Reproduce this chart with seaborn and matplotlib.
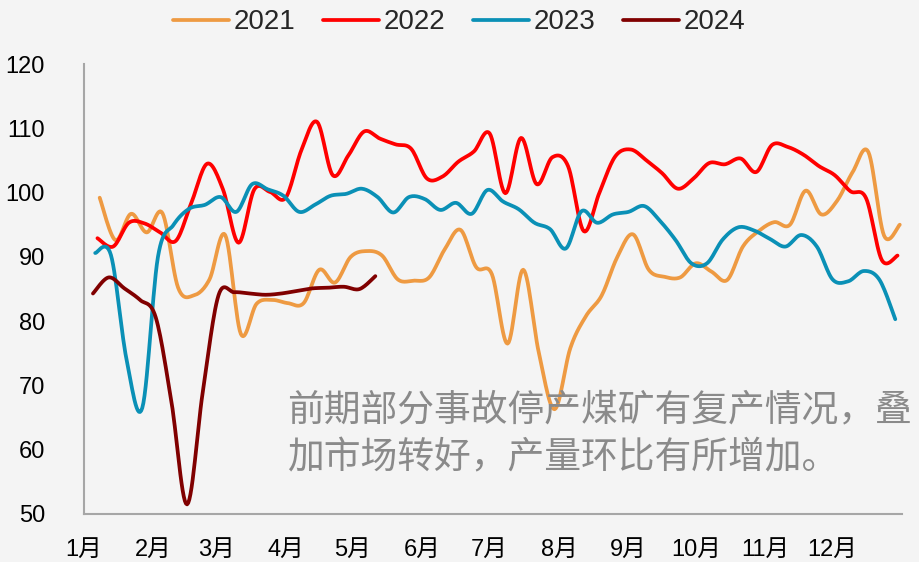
import numpy as np
import pandas as pd
import matplotlib
matplotlib.use("Agg")
import matplotlib.pyplot as plt
import seaborn as sns

# weekly values
years = ["2021", "2022", "2023", "2024"]
start_dates = ["2021-01-08", "2022-01-07", "2023-01-06", "2024-01-05"]

v2021 = [99.2, 92.6, 96.7, 93.8, 96.8, 85.2, 84.0, 86.5, 93.4, 78.0,
         82.7, 83.3, 82.8, 82.8, 88.0, 86.0, 90.0, 90.9, 90.2, 86.5,
         86.3, 86.8, 91.2, 94.2, 88.4, 87.3, 76.5, 88.0, 75.0, 66.3,
         75.8, 80.8, 84.0, 90.0, 93.5, 88.0, 86.9, 86.8, 89.0, 87.7,
         86.4, 91.6, 94.0, 95.4, 95.0, 100.3, 96.6, 98.7, 103.2, 106.3,
         93.3, 95.0]
v2022 = [92.9, 91.6, 95.3, 95.2, 93.8, 92.5, 98.5, 104.5, 100.5, 92.2,
         100.5, 100.1, 99.2, 106.6, 111.0, 102.7, 105.8, 109.5, 108.4, 107.5,
         106.8, 102.2, 102.5, 104.8, 106.4, 109.2, 99.9, 108.5, 101.3, 105.5,
         104.1, 94.0, 100.0, 105.6, 106.7, 105.0, 103.0, 100.6, 102.2, 104.6,
         104.4, 105.3, 103.2, 107.4, 107.1, 105.9, 104.1, 102.7, 100.2, 99.1,
         89.5, 90.2]
v2023 = [90.6, 90.3, 74.0, 66.5, 90.0, 95.0, 97.5, 98.1, 99.3, 97.0,
         101.3, 100.5, 99.5, 97.0, 98.1, 99.5, 99.8, 100.6, 99.3, 96.9,
         99.3, 99.0, 97.3, 98.4, 96.7, 100.4, 98.6, 97.4, 95.3, 94.3,
         91.3, 97.1, 95.3, 96.6, 97.0, 97.9, 95.6, 92.6, 89.0, 89.0,
         92.7, 94.6, 94.1, 92.8, 91.6, 93.4, 91.6, 86.5, 86.2, 87.8,
         86.4, 80.3]
v2024 = [84.3, 86.8, 85.1, 83.3, 80.6, 67.5, 51.5, 69.0, 84.0, 84.5,
         84.3, 84.1, 84.3, 84.7, 85.1, 85.2, 85.35, 85.0, 87.0]

colors = ["#EE9A42", "#FF0000", "#0A90B6", "#800000"]
month_labels = [f"{m}月" for m in range(1, 13)]
y_ticks = [50, 60, 70, 80, 90, 100, 110, 120]
note_lines = ["前期部分事故停产煤矿有复产情况，叠", "加市场转好，产量环比有所增加。"]


def catmull_rom(x, y, steps=14):
    # smoothed line through the weekly points (like Excel's smooth line)
    pts = np.column_stack([x, y]).astype(float)
    pts = np.vstack([pts[0], pts, pts[-1]])
    t = np.linspace(0, 1, steps, endpoint=False)[:, None]
    h00 = 2 * t**3 - 3 * t**2 + 1
    h10 = t**3 - 2 * t**2 + t
    h01 = -2 * t**3 + 3 * t**2
    h11 = t**3 - t**2
    out = []
    for i in range(1, len(pts) - 2):
        p0, p1, p2, p3 = pts[i - 1], pts[i], pts[i + 1], pts[i + 2]
        m1 = (p2 - p0) / 2
        m2 = (p3 - p1) / 2
        out.append(h00 * p1 + h10 * m1 + h01 * p2 + h11 * m2)
    out.append(pts[-2][None, :])
    return np.vstack(out)


frames = []
for yr, start, vals in zip(years, start_dates, [v2021, v2022, v2023, v2024]):
    dates = pd.date_range(start, periods=len(vals), freq="7D")
    day = (dates - pd.Timestamp(f"{yr}-01-01")).days
    s = catmull_rom(day, vals)
    frames.append(pd.DataFrame({"day": s[:, 0], "value": s[:, 1], "year": yr}))
df = pd.concat(frames, ignore_index=True)

month_pos = (pd.date_range("2021-01-01", periods=13, freq="MS") - pd.Timestamp("2021-01-01")).days

sns.set_style("white")
plt.rcParams["font.family"] = ["Liberation Sans Narrow", "Liberation Sans", "Noto Sans CJK SC"]
bg = "#f4f4f4"

fig = plt.figure(figsize=(9.19, 5.62), dpi=100, facecolor=bg)
ax = fig.add_axes([84 / 919, 48 / 562, 818 / 919, 450 / 562])
ax.set_facecolor(bg)

sns.lineplot(data=df, x="day", y="value", hue="year", palette=dict(zip(years, colors)),
             sort=False, estimator=None, linewidth=2.7, ax=ax)

ax.set_xlim(month_pos[0], month_pos[-1])
ax.set_ylim(y_ticks[0], y_ticks[-1])
ax.set_xticks(month_pos)
ax.set_xticklabels(month_labels + [""])
ax.set_yticks(y_ticks)
ax.set_xlabel("")
ax.set_ylabel("")

for side in ["top", "right"]:
    ax.spines[side].set_visible(False)
for side in ["left", "bottom"]:
    ax.spines[side].set_color("#a6a6a6")
    ax.spines[side].set_linewidth(1.5)
ax.tick_params(axis="x", direction="out", length=6, width=1.5, color="#a6a6a6",
               labelsize=17, pad=12, labelcolor="black")
ax.tick_params(axis="y", direction="out", length=6, width=1.5, color="#a6a6a6",
               labelsize=17, pad=22, labelcolor="black")

handles, labels = ax.get_legend_handles_labels()
ax.legend(handles, labels, loc="center", bbox_to_anchor=(0.5, 0.96),
          bbox_transform=fig.transFigure, ncol=4, frameon=False, fontsize=20,
          handlelength=2.0, handletextpad=0.18, columnspacing=1.0)

ax.text(0.248, 0.232, note_lines[0], transform=ax.transAxes, fontsize=26.5,
        color="#8a8a8a", va="center", ha="left", family=["Noto Sans CJK SC"])
ax.text(0.248, 0.124, note_lines[1], transform=ax.transAxes, fontsize=26.5,
        color="#8a8a8a", va="center", ha="left", family=["Noto Sans CJK SC"])

fig.savefig("out.png", dpi=100, facecolor=bg)
